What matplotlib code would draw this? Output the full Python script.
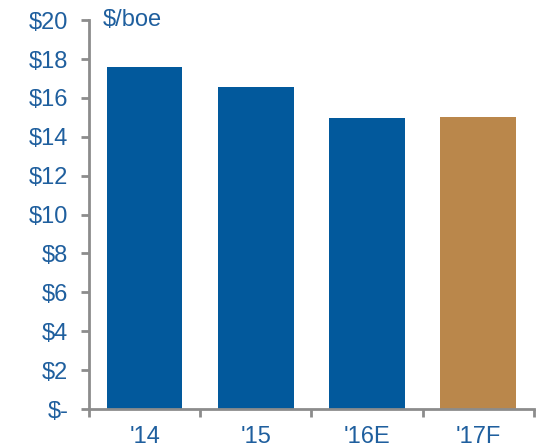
import matplotlib
matplotlib.use("Agg")
import matplotlib.pyplot as plt

plt.rcParams['font.family'] = ['Liberation Sans', 'DejaVu Sans']

categories = ["'14", "'15", "'16E", "'17F"]
values = [17.6, 16.55, 14.95, 15.0]
colors = ['#02599C', '#02599C', '#02599C', '#BA874B']
yticks = [0, 2, 4, 6, 8, 10, 12, 14, 16, 18, 20]
ylabels = ['$-', '$2', '$4', '$6', '$8', '$10', '$12', '$14', '$16', '$18', '$20']

text_color = '#1F5F9E'
axis_color = '#8C8C8C'

fig = plt.figure(figsize=(5.36, 4.47), dpi=100)
ax = fig.add_axes([0.166, 0.085, 0.83, 0.87])

x = list(range(len(categories)))
ax.bar(x, values, width=0.68, color=colors)

ax.set_xlim(-0.5, len(categories) - 0.5)
ax.set_ylim(0, 20)

ax.set_yticks(yticks)
ax.set_yticklabels(ylabels)
ax.tick_params(axis='y', colors=axis_color, labelcolor=text_color, labelsize=17,
               length=6, width=2, pad=9)

ax.set_xticks([i - 0.5 for i in range(len(categories) + 1)])
ax.set_xticklabels([''] * (len(categories) + 1))
ax.tick_params(axis='x', which='major', colors=axis_color, length=6, width=2)
ax.set_xticks(x, minor=True)
ax.set_xticklabels(categories, minor=True)
ax.tick_params(axis='x', which='minor', length=0, labelcolor=text_color,
               labelsize=17, pad=12)

for side in ['top', 'right']:
    ax.spines[side].set_visible(False)
for side in ['left', 'bottom']:
    ax.spines[side].set_color(axis_color)
    ax.spines[side].set_linewidth(2)

ax.text(0.03, 1.0, '$/boe', transform=ax.transAxes, color=text_color,
        fontsize=17, va='center', ha='left')

fig.savefig('out.png', dpi=100)
